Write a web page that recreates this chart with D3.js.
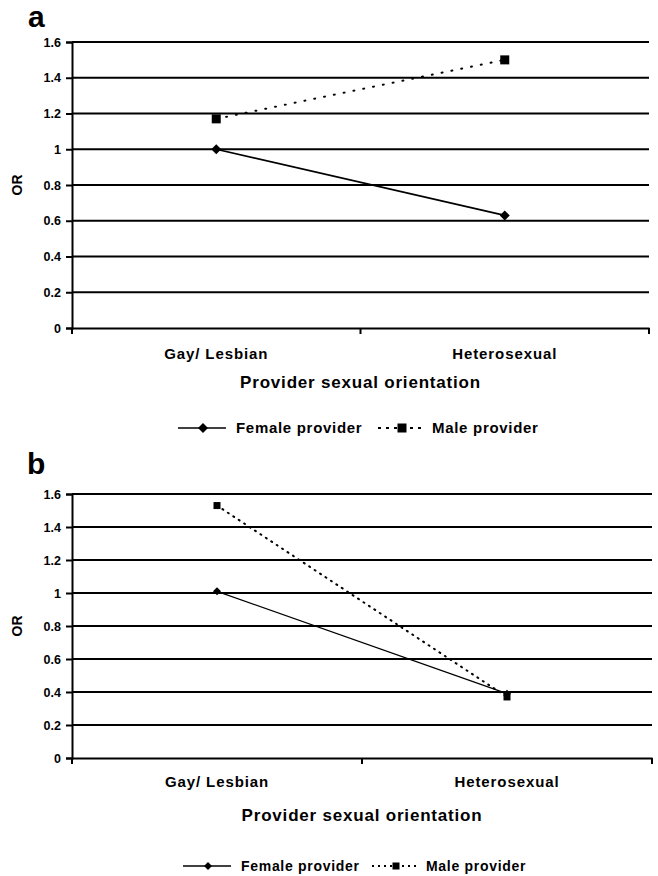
<!DOCTYPE html>
<html>
<head>
<meta charset="utf-8">
<script src="https://cdn.jsdelivr.net/npm/d3@7"></script>
<style>
  body { margin: 0; background: #fff; }
  svg { display: block; font-family: 'Liberation Sans', Arial, sans-serif; font-weight: bold; }
</style>
</head>
<body>
<div id="chart"></div>
<script>
const categories = ['Gay/ Lesbian', 'Heterosexual'];
const yTicks = [0, 0.2, 0.4, 0.6, 0.8, 1, 1.2, 1.4, 1.6];
const femaleA = [1.0, 0.63];
const maleA = [1.17, 1.5];
const femaleB = [1.01, 0.39];
const maleB = [1.53, 0.37];
const seriesNames = ['Female provider', 'Male provider'];

const svg = d3.select('#chart')
  .append('svg')
  .attr('width', 658)
  .attr('height', 876);

function diamond(g, x, y, r) {
  g.append('path')
    .attr('d', `M${x},${y - r}L${x + r},${y}L${x},${y + r}L${x - r},${y}Z`)
    .attr('fill', '#000');
}

function square(g, x, y, r) {
  g.append('rect')
    .attr('x', x - r).attr('y', y - r)
    .attr('width', 2 * r).attr('height', 2 * r)
    .attr('fill', '#000');
}

function drawPanel(p) {
  const g = svg.append('g');

  const xScale = d3.scaleBand().domain(categories).range([p.left, p.right]);
  const yScale = d3.scaleLinear().domain([0, 1.6]).range([p.bottom, p.top]);

  // panel letter
  g.append('text')
    .attr('x', p.letterX).attr('y', p.letterY)
    .style('font-size', '30px')
    .text(p.letter);

  // gridlines
  g.selectAll('.grid')
    .data(yTicks.filter(d => d > 0))
    .enter()
    .append('line')
    .attr('x1', p.left).attr('x2', p.right)
    .attr('y1', d => yScale(d)).attr('y2', d => yScale(d))
    .attr('stroke', '#000')
    .attr('stroke-width', 2);

  // y axis
  const yAxis = g.append('g')
    .attr('transform', `translate(${p.left},0)`)
    .call(d3.axisLeft(yScale).tickValues(yTicks).tickSize(6).tickPadding(5).tickFormat(d3.format('')));
  yAxis.select('.domain').attr('stroke-width', 2);
  yAxis.selectAll('.tick line').attr('stroke-width', 2);
  yAxis.selectAll('.tick text')
    .attr('font-size', null)
    .style('font-size', '12.5px')
    .style('font-weight', 'bold');

  // x axis with ticks at category boundaries
  const xAxis = g.append('g')
    .attr('transform', `translate(0,${p.bottom})`)
    .call(d3.axisBottom(xScale).tickSize(0).tickPadding(p.catPad));
  xAxis.select('.domain').attr('stroke-width', 2);
  xAxis.selectAll('.tick text')
    .style('font-size', '15px')
    .style('letter-spacing', '0.9px')
    .style('font-weight', 'bold');
  const bounds = [p.left, ...categories.map(c => xScale(c) + xScale.bandwidth())];
  xAxis.selectAll('.bound')
    .data(bounds)
    .enter()
    .append('line')
    .attr('x1', d => d).attr('x2', d => d)
    .attr('y1', 0).attr('y2', 6)
    .attr('stroke', '#000')
    .attr('stroke-width', 2);

  // y title
  g.append('text')
    .attr('transform', `translate(${p.orX},${(p.top + p.bottom) / 2}) rotate(-90)`)
    .style('text-anchor', 'middle')
    .style('font-size', '14px')
    .text('OR');

  // x title
  g.append('text')
    .attr('x', (p.left + p.right) / 2)
    .attr('y', p.titleY)
    .style('text-anchor', 'middle')
    .style('font-size', '17px')
    .style('letter-spacing', '0.8px')
    .text('Provider sexual orientation');

  const cx = c => xScale(c) + xScale.bandwidth() / 2;
  const line = d3.line()
    .x((d, i) => cx(categories[i]))
    .y(d => yScale(d));

  g.append('path')
    .datum(p.female)
    .attr('d', line)
    .attr('fill', 'none')
    .attr('stroke', '#000')
    .attr('stroke-width', p.lineW);

  g.append('path')
    .datum(p.male)
    .attr('d', line)
    .attr('fill', 'none')
    .attr('stroke', '#000')
    .attr('stroke-width', p.dotW)
    .attr('stroke-linecap', 'round')
    .attr('stroke-dasharray', p.dash);

  p.female.forEach((v, i) => diamond(g, cx(categories[i]), yScale(v), p.dR));
  p.male.forEach((v, i) => square(g, cx(categories[i]), yScale(v), p.sR));

  // legend
  const lg = g.append('g').attr('transform', `translate(0,${p.legendY})`);
  lg.append('line')
    .attr('x1', p.leg[0]).attr('x2', p.leg[0] + 48)
    .attr('y1', 0).attr('y2', 0)
    .attr('stroke', '#000').attr('stroke-width', p.lineW);
  diamond(lg, p.leg[0] + 25, 0, p.dR);
  lg.append('text')
    .attr('x', p.leg[0] + 58).attr('y', 5)
    .style('font-size', p.legFont)
    .style('letter-spacing', '0.7px')
    .text(seriesNames[0]);
  lg.append('line')
    .attr('x1', p.leg[1]).attr('x2', p.leg[1] + 48)
    .attr('y1', 0).attr('y2', 0)
    .attr('stroke', '#000').attr('stroke-width', p.dotW)
    .attr('stroke-dasharray', p.legDash);
  square(lg, p.leg[1] + 24, 0, p.sR);
  lg.append('text')
    .attr('x', p.leg[1] + 54).attr('y', 5)
    .style('font-size', p.legFont)
    .style('letter-spacing', '0.7px')
    .text(seriesNames[1]);
}

drawPanel({
  letter: 'a', letterX: 28, letterY: 27,
  left: 72, right: 649, top: 42, bottom: 328,
  orX: 22, catPad: 20, titleY: 388, legendY: 428,
  female: femaleA, male: maleA,
  lineW: 1.6, dotW: 2, dash: '1,9', legDash: '3,5',
  dR: 5, sR: 4.5, leg: [178, 378], legFont: '15px'
});

drawPanel({
  letter: 'b', letterX: 27, letterY: 474,
  left: 72, right: 652, top: 494, bottom: 758,
  orX: 22, catPad: 18, titleY: 821, legendY: 866,
  female: femaleB, male: maleB,
  lineW: 1.3, dotW: 2, dash: '1,5.5', legDash: '2,4',
  dR: 4, sR: 3.5, leg: [183, 372], legFont: '14px'
});
</script>
</body>
</html>
